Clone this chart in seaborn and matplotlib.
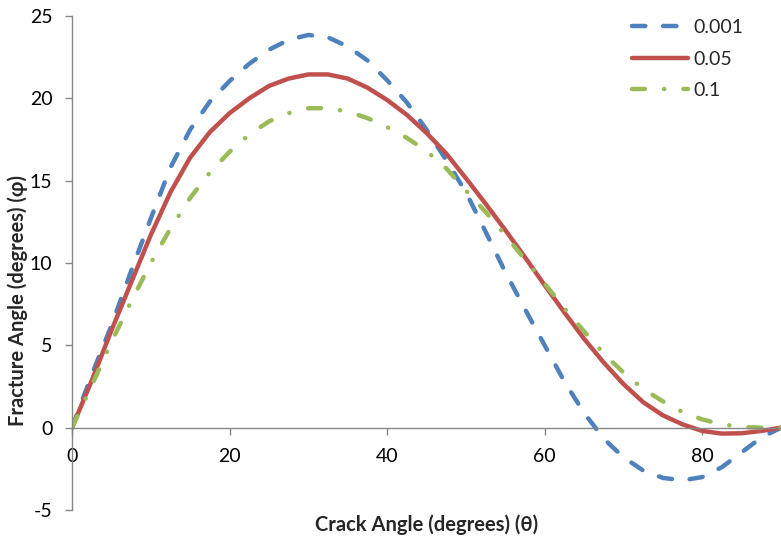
import matplotlib
matplotlib.use("Agg")
import matplotlib.pyplot as plt
import seaborn as sns

# crack angle (degrees) and fracture angle for three values of the parameter
crack_angle = [0, 2.5, 5, 7.5, 10, 12.5, 15, 17.5, 20, 22.5, 25, 27.5, 30, 32.5,
               35, 37.5, 40, 42.5, 45, 47.5, 50, 52.5, 55, 57.5, 60, 62.5, 65,
               67.5, 70, 72.5, 75, 77.5, 80, 82.5, 85, 87.5, 90]
phi_0001 = [0, 3.2, 6.2, 9.5, 12.7, 15.8, 18.1, 19.8, 21.05, 22.1, 22.95, 23.55,
            23.85, 23.7, 23.15, 22.3, 21.1, 19.75, 18.1, 16.25, 14.3, 11.9,
            9.45, 7.2, 5.0, 2.8, 0.9, -0.67, -1.8, -2.6, -3.05, -3.2, -3.0,
            -2.4, -1.5, -0.6, 0]
phi_005 = [0, 2.85, 5.9, 8.8, 11.7, 14.3, 16.4, 17.95, 19.1, 20.0, 20.75, 21.2,
           21.45, 21.45, 21.2, 20.65, 19.9, 19.0, 17.9, 16.65, 15.15, 13.6, 12.0,
           10.35, 8.65, 7.0, 5.4, 3.95, 2.65, 1.55, 0.75, 0.2, -0.2, -0.36, -0.34,
           -0.2, 0]
phi_01 = [0, 2.55, 5.2, 7.65, 10.0, 12.1, 13.95, 15.5, 16.75, 17.8, 18.6, 19.1,
          19.4, 19.4, 19.2, 18.8, 18.25, 17.6, 16.8, 15.75, 14.4, 13.1, 11.7,
          10.2, 8.75, 7.25, 5.85, 4.5, 3.35, 2.35, 1.6, 0.95, 0.5, 0.2, 0.05,
          0.0, 0.0]
series_labels = ["0.001", "0.05", "0.1"]
series_colors = ["#4F81BD", "#C0504D", "#9BBB59"]
y_ticks = [-5, 0, 5, 10, 15, 20, 25]
x_ticks = [0, 20, 40, 60, 80]

sns.set_style("white")
plt.rcParams['font.family'] = ['Lato', 'DejaVu Sans']
plt.rcParams['axes.unicode_minus'] = False

fig = plt.figure(figsize=(7.81, 5.41), dpi=100)
ax = fig.add_axes([72 / 781, 1 - 510 / 541, 709 / 781, 494 / 541])

for phi, lab, col in zip([phi_0001, phi_005, phi_01], series_labels, series_colors):
    sns.lineplot(x=crack_angle, y=phi, color=col, lw=3.2, label=lab, ax=ax)

# Excel-like dash patterns (in linewidth units)
patterns = [[3.0, 4.0], None, [2.9, 4.3, 0.05, 4.3]]
for line, pat in zip(ax.lines, patterns):
    line.set_solid_capstyle('round')
    line.set_solid_joinstyle('round')
    line.set_dash_capstyle('round')
    if pat is not None:
        line.set_dashes(pat)

ax.set_xlim(0, 90)
ax.set_ylim(-5, 25)
ax.set_xticks(x_ticks)
ax.set_yticks(y_ticks)

gray = '#868686'
ax.spines['top'].set_visible(False)
ax.spines['right'].set_visible(False)
ax.spines['bottom'].set_position(('data', 0))
for s in ['left', 'bottom']:
    ax.spines[s].set_color(gray)
    ax.spines[s].set_linewidth(1)

ax.tick_params(axis='both', bottom=True, left=True, direction='out', length=5,
               width=1, color=gray, labelsize=14, labelcolor='black')
ax.tick_params(axis='x', pad=10)
ax.tick_params(axis='y', pad=9)

ax.set_xlabel("Crack Angle (degrees) (θ)", fontweight='bold', fontsize=14.5)
ax.set_ylabel("Fracture Angle (degrees) (φ)", fontweight='bold', fontsize=14.5)
ax.xaxis.set_label_coords(0.5, -0.008)
ax.yaxis.set_label_coords(-0.062, 0.425)

ax.legend(loc='upper left', bbox_to_anchor=(632 / 781, 1 - 19 / 541),
          bbox_transform=fig.transFigure, frameon=False, fontsize=14,
          handlelength=2.9, handletextpad=0.25, labelspacing=0.75,
          borderpad=0, borderaxespad=0)

plt.savefig("out.png", dpi=100)
